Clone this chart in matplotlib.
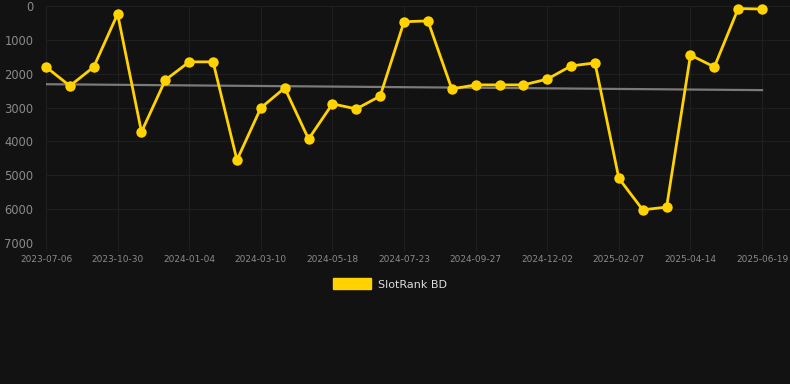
import numpy as np
import matplotlib
matplotlib.use('Agg')
import matplotlib.pyplot as plt
from matplotlib.patches import Patch

# =========================
# Data
# =========================
tick_labels = ['2023-07-06', '2023-10-30', '2024-01-04', '2024-03-10',
               '2024-05-18', '2024-07-23', '2024-09-27', '2024-12-02',
               '2025-02-07', '2025-04-14', '2025-06-19']
rank = [1800, 2360, 1800, 235, 3720, 2185, 1650, 1650, 4550, 3010,
        2420, 3930, 2890, 3040, 2660, 465, 440, 2450, 2330, 2330,
        2330, 2160, 1770, 1680, 5090, 6020, 5940, 1450, 1800, 75, 90]
series_name = 'SlotRank BD'

BG = '#121212'
GOLD = '#FFD200'
TEXT = '#8a8a8a'
GRID = '#1f1f1f'

x = np.arange(len(rank))
slope, intercept = np.polyfit(x, rank, 1)
trend = slope * x + intercept

fig = plt.figure(figsize=(7.9, 3.84), dpi=100, facecolor=BG)
ax = fig.add_axes([46 / 790, 1 - 243 / 384, 744 / 790, 237 / 384])
ax.set_facecolor(BG)

ax.plot(x, trend, color='#7a7a7a', linewidth=1.6, zorder=2)
ax.plot(x, rank, color=GOLD, linewidth=2.0, marker='o', markersize=7.5,
        markeredgewidth=0, zorder=3, clip_on=False)

ax.set_ylim(7000, 0)
ax.set_xlim(0, len(rank) - 1 + 1.17)
ax.set_yticks(range(0, 7001, 1000))
ax.set_yticklabels([str(v) for v in range(0, 7001, 1000)])
ax.set_xticks(x[::3])
ax.set_xticklabels(tick_labels)

ax.grid(True, color=GRID, linewidth=0.8)
ax.set_axisbelow(True)
for s in ax.spines.values():
    s.set_visible(False)
ax.tick_params(axis='y', length=0, labelsize=8.3, labelcolor=TEXT, pad=9)
ax.tick_params(axis='x', length=6, color=GRID, labelsize=6.5, labelcolor=TEXT, pad=3)

handle = Patch(facecolor=GOLD, edgecolor=GOLD)
leg = fig.legend([handle], [series_name], loc='center', bbox_to_anchor=(390 / 790, 1 - 284 / 384),
                 frameon=False, fontsize=8, handlelength=3.4, handleheight=1.1,
                 handletextpad=0.6)
for t in leg.get_texts():
    t.set_color('#dddddd')

fig.savefig('out.png', dpi=100, facecolor=BG)
